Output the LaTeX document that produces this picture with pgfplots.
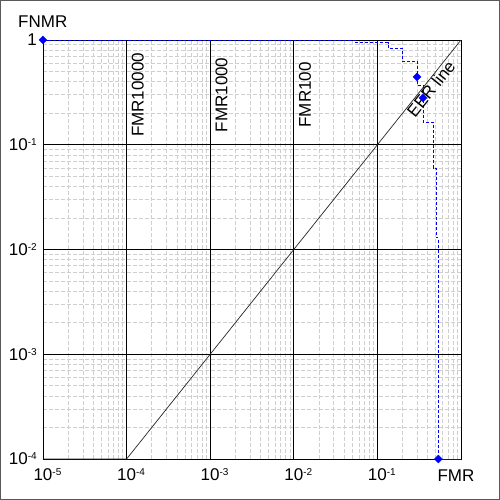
\documentclass[border=0pt]{standalone}
\usepackage{fontspec}
\setmainfont{Liberation Sans}
\usepackage{pgfplots}
\pgfplotsset{compat=1.18}
\newcommand{\tl}[1]{10\rlap{\raisebox{5pt}{\fontsize{10}{12}\selectfont -#1}}}
\newcommand{\tly}[1]{10\raisebox{5pt}{\fontsize{10}{12}\selectfont -#1}}
\begin{document}
\begin{tikzpicture}[x=1pt,y=1pt]
\useasboundingbox (0,0) rectangle (500,500);
\fill[white] (0,0) rectangle (500,500);
\draw[black!65, line width=1pt] (0.5,0.5) rectangle (499.5,499.5);
\node[anchor=base west, inner sep=0pt, font=\fontsize{17}{20}\selectfont] at (18,472) {FNMR};
\node[anchor=base, inner sep=0pt, font=\fontsize{17}{20}\selectfont] at (456,18) {FMR};
\begin{axis}[
  at={(43pt,41pt)}, anchor=south west,
  scale only axis, width=418pt, height=419pt,
  xmode=log, ymode=log,
  xmin=1e-5, xmax=1, ymin=1e-4, ymax=1,
  xtick={1e-5,1e-4,1e-3,1e-2,1e-1},
  xticklabels={\tl{5},\tl{4},\tl{3},\tl{2},\tl{1}},
  ytick={1e-4,1e-3,1e-2,1e-1,1},
  yticklabels={\tly{4},\tly{3},\tly{2},\tly{1},1},
  minor xtick={2e-5,3e-5,4e-5,5e-5,6e-5,7e-5,8e-5,9e-5,
               2e-4,3e-4,4e-4,5e-4,6e-4,7e-4,8e-4,9e-4,
               2e-3,3e-3,4e-3,5e-3,6e-3,7e-3,8e-3,9e-3,
               2e-2,3e-2,4e-2,5e-2,6e-2,7e-2,8e-2,9e-2,
               2e-1,3e-1,4e-1,5e-1,6e-1,7e-1,8e-1,9e-1},
  minor ytick={2e-4,3e-4,4e-4,5e-4,6e-4,7e-4,8e-4,9e-4,
               2e-3,3e-3,4e-3,5e-3,6e-3,7e-3,8e-3,9e-3,
               2e-2,3e-2,4e-2,5e-2,6e-2,7e-2,8e-2,9e-2,
               2e-1,3e-1,4e-1,5e-1,6e-1,7e-1,8e-1,9e-1},
  grid=both,
  major grid style={black, line width=0.9pt, solid},
  minor grid style={gray!38, line width=0.7pt, dash pattern=on 4pt off 2pt},
  axis line style={black, line width=0.9pt},
  major tick length=0pt, minor tick length=0pt,
  tick style={draw=none},
  ticklabel style={font=\fontsize{17}{20}\selectfont},
  xticklabel style={anchor=north, inner sep=0pt, yshift=-9pt},
  yticklabel style={anchor=east, inner sep=0pt, xshift=-6pt},
  clip=false,
]
% EER line
\addplot[black!85, line width=0.7pt] coordinates {(1e-5,1e-4) (1e-4,1e-4) (1,1)};
% DET step curve
\addplot[blue, line width=0.9pt, dash pattern=on 3pt off 2pt] coordinates {
(1e-5,1) (0.054,1) (0.054,0.946) (0.134,0.946) (0.134,0.839) (0.197,0.839)
(0.197,0.630) (0.298,0.630) (0.298,0.444) (0.298,0.372) (0.351,0.372)
(0.351,0.280) (0.351,0.165) (0.462,0.165) (0.462,0.060) (0.502,0.060)
(0.502,0.0129) (0.536,0.0129) (0.536,1e-4)};
\addplot[blue, line width=0.9pt] coordinates {(0.536,1e-4) (1,1e-4)};
\addplot[only marks, blue, mark=square*, mark size=2.8pt, mark options={rotate=45, solid}] coordinates {
(1e-5,1) (0.298,0.444) (0.351,0.280) (0.536,1e-4)};
% labels
\node[rotate=90, anchor=north, inner sep=0pt, font=\fontsize{17}{20}\selectfont] at ([xshift=5pt]axis cs:1e-4,0.299) {FMR10000};
\node[rotate=90, anchor=north, inner sep=0pt, font=\fontsize{17}{20}\selectfont] at ([xshift=5pt]axis cs:1e-3,0.299) {FMR1000};
\node[rotate=90, anchor=north, inner sep=0pt, font=\fontsize{17}{20}\selectfont] at ([xshift=5pt]axis cs:1e-2,0.299) {FMR100};
\node[rotate=51.4, inner sep=0pt, font=\fontsize{17}{20}\selectfont] at (axis cs:0.437,0.34) {EER line};
\end{axis}
\end{tikzpicture}
\end{document}
